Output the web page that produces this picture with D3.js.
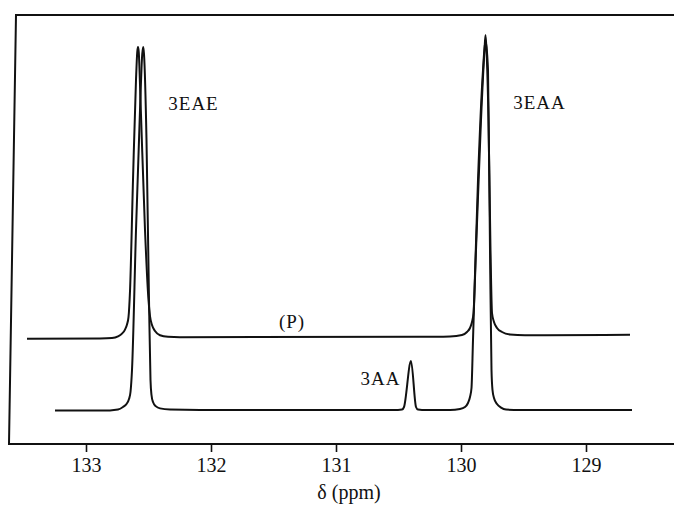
<!DOCTYPE html>
<html>
<head>
<meta charset="utf-8">
<script src="https://cdn.jsdelivr.net/npm/d3@7"></script>
<style>
  html, body { margin: 0; padding: 0; background: #fff; }
  svg { display: block; }
  text { font-family: "Liberation Serif", "DejaVu Serif", serif; fill: #111; }
</style>
</head>
<body>
<svg id="chart" width="674" height="505"></svg>
<script>
// ---- data (ppm vs relative intensity) ----
const tickValues = [133, 132, 131, 130, 129];
const tickLabels = ["133", "132", "131", "130", "129"];
const axisTitle = "δ (ppm)";

// upper trace (P)
const upperPpm = [133.472, 132.888, 132.792, 132.744, 132.712, 132.688, 132.672, 132.66, 132.648, 132.624, 132.6, 132.59, 132.584, 132.578, 132.564, 132.528, 132.5, 132.488, 132.472, 132.448, 132.408, 132.344, 132.248, 130.328, 130.088, 129.992, 129.952, 129.928, 129.912, 129.9, 129.88, 129.84, 129.812, 129.804, 129.796, 129.78, 129.764, 129.752, 129.736, 129.712, 129.672, 129.608, 129.488, 129.328, 128.648];
const upperInt = [26.3, 26.4, 26.5, 26.9, 27.6, 28.6, 29.9, 31.7, 38.2, 66, 91, 98, 99.25, 98, 86, 53.5, 36, 32, 29.75, 28.25, 27.2, 26.8, 26.7, 26.8, 26.9, 27.25, 28.0, 29.0, 30.5, 32.75, 48.5, 81, 98.5, 102.25, 98.5, 81, 48.5, 32.75, 30.5, 29.0, 28.0, 27.4, 27.2, 27.2, 27.3];

// lower trace
const lowerPpm = [133.248, 132.808, 132.744, 132.704, 132.676, 132.656, 132.644, 132.632, 132.6, 132.568, 132.55, 132.542, 132.536, 132.516, 132.496, 132.484, 132.476, 132.464, 132.44, 132.408, 132.328, 132.088, 130.504, 130.472, 130.456, 130.4, 130.36, 130.344, 130.312, 130.088, 130.008, 129.968, 129.944, 129.928, 129.916, 129.904, 129.864, 129.824, 129.804, 129.784, 129.768, 129.756, 129.748, 129.736, 129.712, 129.68, 129.64, 129.528, 128.632];
const lowerInt = [8.4, 8.4, 8.6, 9.25, 10, 11.25, 13, 18.5, 53.5, 83.5, 97.5, 99.25, 97.5, 76, 36, 16, 12.25, 10.5, 9.4, 8.9, 8.6, 8.5, 8.5, 8.6, 9.25, 20.75, 9.25, 8.6, 8.5, 8.5, 8.75, 9.25, 10.25, 11.75, 14, 26, 66, 93.5, 101, 93.5, 48.5, 18.5, 13.5, 11.5, 10, 9.1, 8.6, 8.5, 8.5];

const peakLabels = ["3EAE", "3EAA", "3AA", "(P)"];
const peakLabelPpm = [132.14, 129.372, 130.644, 131.352];
const peakLabelInt = [83.5, 83.75, 14.75, 29];

// ---- drawing ----
const svg = d3.select("#chart");
const x = d3.scaleLinear().domain([133, 129]).range([86, 586]);
const y = d3.scaleLinear().domain([0, 100]).range([444, 44]);

// frame (top, left skewed as in the scan, bottom)
svg.append("path")
  .attr("d", "M674,15 L16,15 L9,444 L674,444")
  .attr("fill", "none").attr("stroke", "#111").attr("stroke-width", 2);

// axis ticks
const axis = d3.axisBottom(x)
  .tickValues(tickValues)
  .tickFormat((d, i) => tickLabels[i])
  .tickSize(8)
  .tickSizeOuter(0);
const gAxis = svg.append("g").attr("transform", "translate(0,444)").call(axis);
gAxis.select(".domain").remove();
gAxis.selectAll(".tick line").attr("stroke", "#111").attr("stroke-width", 1.6);
gAxis.selectAll(".tick text")
  .attr("y", 28).attr("dy", 0)
  .style("font-family", "'Liberation Serif', serif")
  .style("font-size", "20px").attr("fill", "#111");

svg.append("text")
  .attr("x", 349).attr("y", 499)
  .attr("text-anchor", "middle")
  .style("font-size", "20px")
  .text(axisTitle);

// traces
const line = d3.line()
  .x(d => x(d[0]))
  .y(d => y(d[1]))
  .curve(d3.curveMonotoneX);

const upper = upperPpm.map((p, i) => [p, upperInt[i]]);
const lower = lowerPpm.map((p, i) => [p, lowerInt[i]]);

[upper, lower].forEach(data => {
  svg.append("path")
    .datum(data)
    .attr("d", line)
    .attr("fill", "none")
    .attr("stroke", "#111")
    .attr("stroke-width", 2)
    .attr("stroke-linejoin", "round");
});

// peak labels
peakLabels.forEach((t, i) => {
  svg.append("text")
    .attr("x", x(peakLabelPpm[i]))
    .attr("y", y(peakLabelInt[i]))
    .attr("text-anchor", "middle")
    .style("font-size", "19px")
    .style("letter-spacing", "1px")
    .text(t);
});
</script>
</body>
</html>
